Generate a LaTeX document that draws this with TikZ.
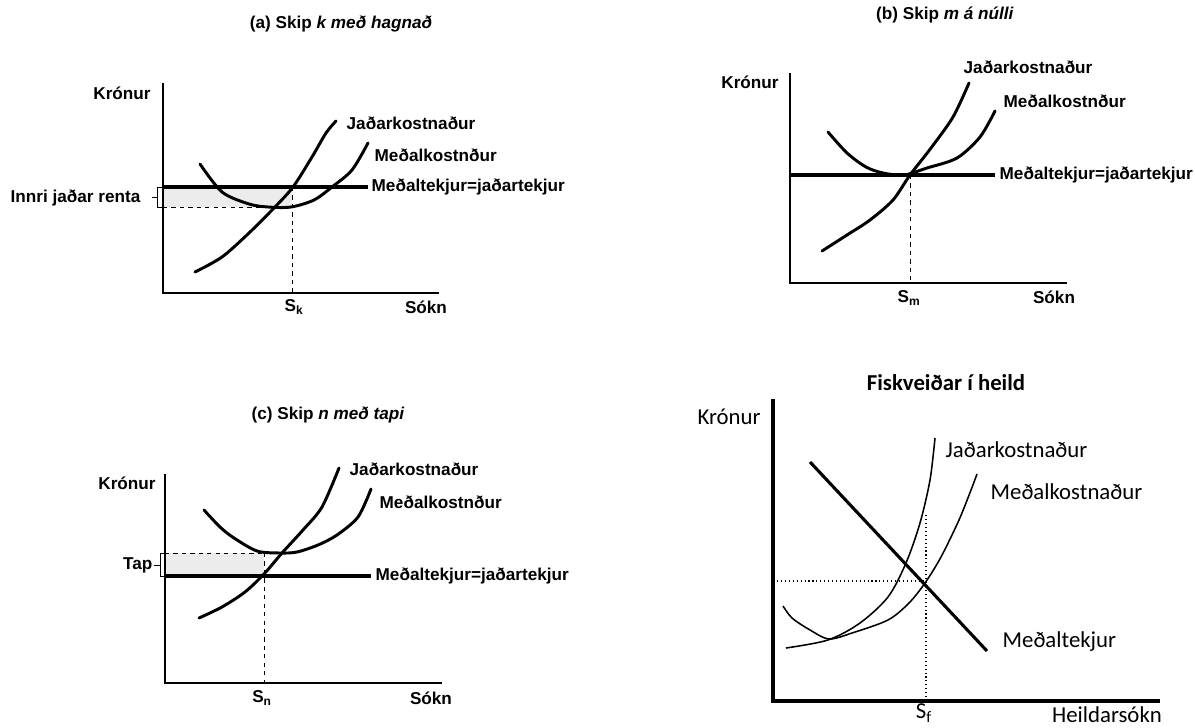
\documentclass[tikz,border=0pt]{standalone}
\usepackage{fontspec}
\setmainfont{Liberation Sans}
\newfontfamily\carlitofont{Carlito}
\usetikzlibrary{positioning,calc}
\tikzset{
    curve/.style={line width=2.1pt, line cap=round},
    thincurve/.style={line width=1.1pt},
    revline/.style={line width=2.8pt},
    axisline/.style={line width=0.9pt},
    heavyaxis/.style={line width=2.6pt},
    guide/.style={dashed, line width=0.6pt},
    dotguide/.style={dotted, line width=0.8pt},
    shade/.style={fill=gray!15, draw=none},
    lbl/.style={font=\bfseries\fontsize{12.2}{14}\selectfont, inner sep=1pt},
    totlbl/.style={font=\carlitofont\fontsize{16.2}{19}\selectfont, inner sep=1pt}
}

\begin{document}
\begin{tikzpicture}[x=0.025cm, y=-0.025cm]
        \useasboundingbox (0,0) rectangle (1195,728);

        % (a) skip k med hagnad
        \node[lbl] (a-title) at (341,24) {(a) Skip \textit{k með hagnað}};
        \coordinate (a-top) at (163,83);
        \coordinate (a-o) at (163,293);
        \coordinate (a-right) at (439,293);
        \fill[shade] (163,187) rectangle (292,207); % renta
        \draw[guide] (163,207) -- (292,207);
        \draw[guide] (292,187) -- (292,293);
        \draw[axisline] (a-top) -- (a-o) -- (a-right);
        \draw[curve] plot[smooth] coordinates {(195,272) (222,257) (249,233) (274,208) (293,187) (312,157) (326,133) (336,121)};
        \draw[curve] plot[smooth] coordinates {(200,164) (222,192) (249,204) (268,207) (291,207) (314,200) (332,187) (352,170) (368,143)};
        \draw[revline] (163,187) -- (368,187);
        \draw[line width=0.5pt] (163,187) -- (157,187) -- (157,207) -- (163,207); % klofi
        \draw[line width=0.5pt] (157,197) -- (152,197);
        \node[lbl] (a-kr) at (122,93) {Krónur};
        \node[lbl, anchor=east] (a-rent) at (142,198) {Innri jaðar renta};
        \node[lbl, anchor=west] (a-mc) at (345,123) {Jaðarkostnaður};
        \node[lbl, anchor=west] (a-ac) at (373,155) {Meðalkostnður};
        \node[lbl, anchor=west] (a-ar) at (370,187) {Meðaltekjur=jaðartekjur};
        \node[lbl] (a-s) at (294,307) {S\textsubscript{k}};
        \node[lbl] (a-x) at (426,307) {Sókn};

        % (b) skip m a nulli
        \node[lbl] (b-title) at (945,15) {(b) Skip \textit{m á núlli}};
        \coordinate (b-top) at (790,73);
        \coordinate (b-o) at (790,283);
        \coordinate (b-right) at (1067,283);
        \draw[guide] (910,175) -- (910,283);
        \draw[axisline] (b-top) -- (b-o) -- (b-right);
        \draw[curve] plot[smooth] coordinates {(822,251) (847,235) (870,220) (893,200) (910,175) (931,148) (953,117) (969,83)};
        \draw[curve] plot[smooth] coordinates {(828,132) (847,153) (866,167) (883,173) (904,175) (927,168) (957,158) (980,137) (995,111)};
        \draw[revline] (790,175) -- (995,175);
        \node[lbl] (b-kr) at (750,82) {Krónur};
        \node[lbl, anchor=west] (b-mc) at (962,67) {Jaðarkostnaður};
        \node[lbl, anchor=west] (b-ac) at (1002,101) {Meðalkostnður};
        \node[lbl, anchor=west] (b-ar) at (998,175) {Meðaltekjur=jaðartekjur};
        \node[lbl] (b-s) at (909,298) {S\textsubscript{m}};
        \node[lbl] (b-x) at (1054,297) {Sókn};

        % (c) skip n med tapi
        \node[lbl] (c-title) at (328,415) {(c) Skip \textit{n með tapi}};
        \coordinate (c-top) at (165,474);
        \coordinate (c-o) at (165,683);
        \coordinate (c-right) at (442,683);
        \fill[shade] (165,553) rectangle (264,576); % tap
        \draw[guide] (165,553) -- (264,553);
        \draw[guide] (264,553) -- (264,683);
        \draw[axisline] (c-top) -- (c-o) -- (c-right);
        \draw[curve] plot[smooth] coordinates {(199,618) (222,607) (245,592) (264,574) (282,553) (303,530) (322,507) (339,468)};
        \draw[curve] plot[smooth] coordinates {(204,510) (220,527) (234,538) (257,551) (280,553) (297,552) (318,545) (337,535) (358,517) (371,489)};
        \draw[revline] (165,576) -- (371,576);
        \draw[line width=0.5pt] (165,553) -- (160,553) -- (160,576) -- (165,576); % klofi
        \draw[line width=0.5pt] (160,565) -- (154,565);
        \node[lbl] (c-kr) at (127,483) {Krónur};
        \node[lbl, anchor=east] (c-tap) at (154,565) {Tap};
        \node[lbl, anchor=west] (c-mc) at (348,469) {Jaðarkostnaður};
        \node[lbl, anchor=west] (c-ac) at (378,502) {Meðalkostnður};
        \node[lbl, anchor=west] (c-ar) at (374,576) {Meðaltekjur=jaðartekjur};
        \node[lbl] (c-s) at (262,698) {S\textsubscript{n}};
        \node[lbl] (c-x) at (431,698) {Sókn};

        % fiskveidar i heild
        \node[totlbl, font=\carlitofont\bfseries\fontsize{16.2}{19}\selectfont] (d-title) at (946,383) {Fiskveiðar í heild};
        \coordinate (d-top) at (773,399);
        \coordinate (d-o) at (773,701);
        \coordinate (d-right) at (1160,701);
        \draw[dotguide] (773,581) -- (926,581);
        \draw[dotguide] (926,515) -- (926,701);
        \draw[thincurve] plot[smooth] coordinates {(786,648) (828,640) (860,623) (888,597) (906,563) (920,523) (930,480) (935,438)};
        \draw[thincurve] plot[smooth] coordinates {(783,606) (792,618) (810,630) (829,639) (852,633) (888,620) (909,603) (925,583) (941,557) (959,520) (971,490) (977,474)};
        \draw[line width=2.2pt] (810,462) -- (987,651); % medaltekjur
        \draw[heavyaxis] (d-top) -- (d-o) -- (d-right);
        \node[totlbl] (d-kr) at (729,417) {Krónur};
        \node[totlbl, anchor=west] (d-mc) at (944,450) {Jaðarkostnaður};
        \node[totlbl, anchor=west] (d-ac) at (989,492) {Meðalkostnaður};
        \node[totlbl, anchor=west] (d-ar) at (1001,642) {Meðaltekjur};
        \node[totlbl] (d-s) at (924,713) {S\textsubscript{f}};
        \node[totlbl] (d-x) at (1107,715) {Heildarsókn};
\end{tikzpicture}
\end{document}
